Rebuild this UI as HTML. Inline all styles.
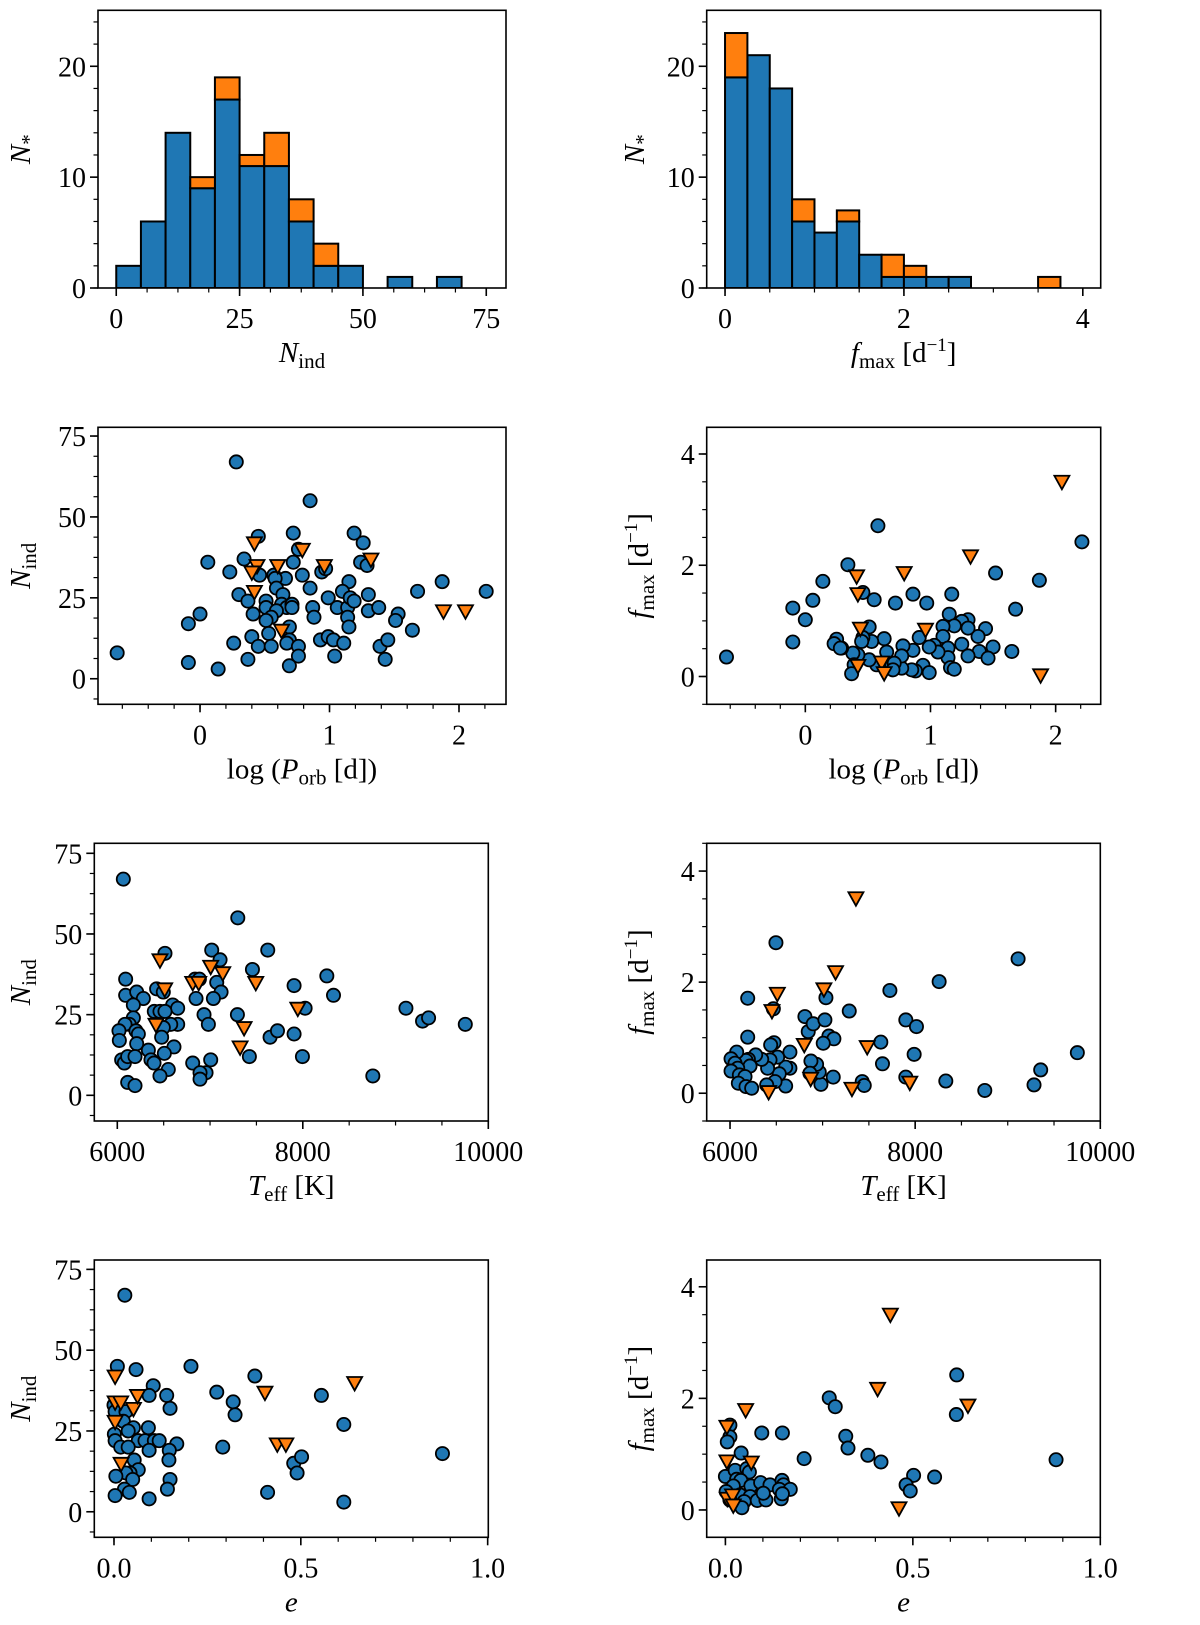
<!DOCTYPE html>
<html><head><meta charset="utf-8"><style>
html,body{margin:0;padding:0;background:#fff;}
svg{display:block;font-family:"Liberation Serif","DejaVu Serif",serif;}
svg text{font-family:"Liberation Serif","DejaVu Serif",serif;}
</style></head><body>
<svg id="fig" width="1200" height="1625" viewBox="0 0 1200 1625" xmlns="http://www.w3.org/2000/svg" font-family="Liberation Serif, DejaVu Serif, serif"></svg>
<script>
// ---- Histogram data ----
const hist1Edges = [0,5,10,15,20,25,30,35,40,45,50,55,60,65,70,75];
const hist1Blue = [2,6,14,9,17,11,11,6,2,2,0,1,0,1,0];
const hist1Total = [2,6,14,10,19,12,14,8,4,2,0,1,0,1,0];
const hist2Edges = [0,0.25,0.5,0.75,1,1.25,1.5,1.75,2,2.25,2.5,2.75,3,3.25,3.5,3.75,4];
const hist2Blue = [19,21,18,6,5,6,3,1,1,1,1,0,0,0,0,0];
const hist2Total = [23,21,18,8,5,7,3,3,2,1,1,0,0,0,1,0];

// ---- Panel 3: log Porb vs Nind ----
const p3CircX = [-0.64,0.28,0.85,0.45,0.72,1.19,1.26,0.06,0.34,0.23,0.46,0.57,0.66,0.58,0.72,0.76,0.79,0.94,0.97,1.24,1.29,1.15,0.30,0.37,0.41,0,-0.09,0.51,0.51,0.59,0.64,0.63,0.67,0.71,0.71,0.59,0.55,0.51,0.85,0.87,0.88,0.99,1.06,1.10,1.14,1.16,1.19,1.14,1.15,1.30,1.30,1.38,1.53,1.51,1.64,1.68,1.87,2.21,0.26,0.40,0.45,0.53,0.55,0.69,0.69,0.67,0.76,0.76,0.69,0.37,0.14,-0.09,0.93,0.99,1.03,1.04,1.11,1.39,1.45,1.43];
const p3CircY = [8,67,55,44,45,45,42,36,37,33,32,32,31,31,36,40,32,33,34,36,35,30,26,24,20,20,17,24,22,28,26,23,22,23,22,21,19,18,28,22,19,25,22,27,22,25,24,19,16,26,21,22,20,18,15,27,30,27,11,13,10,14,10,16,12,11,10,7,4,6,3,5,12,13,12,7,11,10,12,6];
const p3TriX = [0.42,0.44,0.40,0.42,0.60,0.79,0.96,1.32,0.63,1.88,2.05];
const p3TriY = [42,35,33,27,35,40,35,37,15,21,21];

// ---- Panel 4: log Porb vs fmax ----
const p4CircX = [-0.63,-0.10,-0.10,0,0.06,0.14,0.34,0.58,0.46,0.55,0.72,0.86,0.97,1.17,1.15,1.52,1.68,1.87,2.21,1.65,1.50,1.44,1.38,1.30,1.25,1.30,1.19,1.10,1.10,1.25,1.39,1.46,1.30,1.14,1.14,1.16,1.19,1.03,1.06,0.99,0.91,0.94,0.99,0.88,0.85,0.77,0.86,0.78,0.77,0.69,0.71,0.70,0.65,0.63,0.57,0.51,0.53,0.51,0.46,0.45,0.42,0.38,0.39,0.37,0.29,0.25,0.23,0.28];
const p4CircY = [0.35,1.23,0.62,1.02,1.37,1.71,2.01,2.71,1.51,1.38,1.32,1.48,1.32,1.48,1.12,1.86,1.21,1.73,2.42,0.45,0.53,0.86,0.72,1.02,0.99,0.87,0.91,0.90,0.72,0.58,0.45,0.33,0.37,0.51,0.34,0.16,0.13,0.56,0.44,0.53,0.70,0.20,0.07,0.10,0.12,0.15,0.47,0.55,0.37,0.19,0.24,0.12,0.44,0.68,0.21,0.30,0.63,0.89,0.70,0.63,0.39,0.42,0.21,0.05,0.51,0.67,0.59,0.51];
const p4TriX = [0.41,0.42,0.44,0.42,0.61,0.63,0.79,0.96,1.32,2.05,1.88];
const p4TriY = [1.81,1.49,0.87,0.20,0.26,0.07,1.87,0.85,2.17,3.51,0.03];

// ---- Panel 5: Teff vs Nind ----
const p5CircX = [6065,7299,6514,7018,7622,7108,7457,6090,6838,6885,7072,7119,7036,6849,6424,6496,6090,6209,6281,6173,7906,8259,8331,8025,9112,9291,9356,9752,6597,6651,6399,6460,6514,6651,6576,6496,6478,6935,6982,7295,6173,6129,6083,6018,6022,6201,6227,6209,6611,6335,6507,7647,7727,7906,6047,6076,6112,6191,6363,6396,6813,7007,6957,6892,6892,6550,6460,6112,6191,7424,7996,8755];
const p5CircY = [67,55,44,45,45,42,39,36,36,36,35,32,30,30,33,32,31,32,30,28,34,37,31,27,27,23,24,22,28,27,26,26,26,22,22,21,18,25,22,25,24,22,22,20,17,20,19,16,15,14,13,18,20,19,11,10,12,12,11,10,10,11,7,7,5,8,6,4,3,12,12,6];
const p5TriX = [6460,6511,6417,6813,6878,7007,7137,7367,7493,7324,7946];
const p5TriY = [42,33,22,35,35,40,38,21,35,15,27];

// ---- Panel 6: Teff vs fmax ----
const p6CircX = [6496,6191,6191,6468,7036,6809,6845,6899,7025,7068,7122,7007,7288,7727,8259,7899,8014,7629,7647,7989,9112,9752,9356,9284,8752,8331,7899,7428,7450,7115,6982,6964,6935,6874,6863,6647,6647,6601,6601,6532,6514,6486,6475,6439,6432,6406,6396,6342,6277,6198,6173,6216,6072,6011,6054,6083,6011,6101,6162,6090,6173,6234];
const p6CircY = [2.71,1.71,1.01,1.52,1.72,1.38,1.11,1.25,1.32,1.03,0.98,0.90,1.48,1.85,2.01,1.32,1.20,0.92,0.53,0.70,2.42,0.73,0.42,0.15,0.05,0.22,0.29,0.21,0.14,0.29,0.16,0.38,0.52,0.58,0.36,0.74,0.45,0.47,0.13,0.35,0.65,0.21,0.91,0.87,0.60,0.45,0.15,0.61,0.69,0.61,0.59,0.49,0.74,0.62,0.54,0.45,0.40,0.33,0.30,0.18,0.12,0.09];
const p6TriX = [7360,7140,7014,6511,6453,6802,7482,6871,6417,7317,7942];
const p6TriY = [3.52,2.19,1.88,1.80,1.49,0.88,0.84,0.27,0.03,0.09,0.20];

// ---- Panel 7: e vs Nind ----
const p7CircX = [0.029,0.009,0.059,0.206,0.377,0.105,0.094,0.141,0.150,0.275,0.319,0.324,0.555,0.615,0,0.003,0.032,0.025,0.052,0.092,0.038,0.001,0.003,0.065,0.083,0.108,0.121,0.168,0.018,0.038,0.094,0.148,0.291,0.054,0.147,0.481,0.502,0.490,0.879,0.065,0.043,0.032,0.005,0.050,0.150,0.143,0.028,0.041,0.003,0.094,0.411,0.615];
const p7CircY = [67,45,44,45,42,39,36,36,32,37,34,30,36,27,33,31,31,28,26,26,25,24,22,22,22,22,22,21,20,20,19,19,20,16,16,15,17,12,18,13,12,12,11,10,10,7,7,6,5,4,6,3];
const p7TriX = [0.003,0.003,0.018,0.052,0.063,0.003,0.019,0.404,0.437,0.460,0.644];
const p7TriY = [42,34,34,32,36,28,15,37,21,21,40];

// ---- Panel 8: e vs fmax ----
const p8CircX = [0.617,0.616,0.277,0.293,0.321,0.327,0.380,0.415,0.502,0.558,0.482,0.493,0.882,0.210,0.152,0.097,0.012,0.012,0.005,0.042,0,0.026,0.057,0.064,0.030,0.041,0.021,0.068,0.094,0.119,0.151,0.155,0.144,0.173,0.002,0.039,0.066,0.085,0.108,0.149,0.152,0.050,0.044,0.012,0.101];
const p8CircY = [2.42,1.71,2.01,1.85,1.32,1.11,0.98,0.86,0.62,0.59,0.45,0.34,0.90,0.92,1.38,1.38,1.52,1.31,1.22,1.02,0.60,0.71,0.74,0.68,0.55,0.53,0.43,0.43,0.49,0.45,0.53,0.45,0.37,0.37,0.33,0.27,0.24,0.17,0.18,0.20,0.29,0.15,0.04,0.18,0.30];
const p8TriX = [0.44,0.406,0.647,0.054,0.004,0.004,0.069,0.005,0.019,0.021,0.463];
const p8TriY = [3.51,2.18,1.88,1.80,1.50,0.88,0.86,0.21,0.27,0.09,0.04];

const BLUE = '#1f77b4', ORANGE = '#ff7f0e';
const FONT = '"Liberation Serif", "DejaVu Serif", serif';
const NS = 'http://www.w3.org/2000/svg';
const svg = document.getElementById('fig');

function mk(tag, attrs, parent) {
  const e = document.createElementNS(NS, tag);
  for (const k in attrs) e.setAttribute(k, attrs[k]);
  if (tag === 'text') e.style.fontFamily = FONT;
  (parent || svg).appendChild(e);
  return e;
}

function range(a, b, step) {
  const out = [];
  for (let v = a; v <= b + 1e-9; v += step) out.push(+v.toFixed(6));
  return out;
}

function makePanel(cfg) {
  const g = mk('g', {});
  
  
  const X = v => cfg.x0 + (v - cfg.xlim[0]) / (cfg.xlim[1] - cfg.xlim[0]) * (cfg.x1 - cfg.x0);
  const Y = v => cfg.y1 - (v - cfg.ylim[0]) / (cfg.ylim[1] - cfg.ylim[0]) * (cfg.y1 - cfg.y0);
  const clip = 'clip-' + cfg.name;
  const cp = mk('clipPath', { id: clip }, g);
  mk('rect', { x: cfg.x0, y: cfg.y0, width: cfg.x1 - cfg.x0, height: cfg.y1 - cfg.y0 }, cp);
  const plot = mk('g', { 'clip-path': 'url(#' + clip + ')' }, g);
  
  
  return { g, X, Y, plot, cfg };
}

function drawAxes(p) {
  const { g, X, Y, cfg } = p;
  const ax = mk('g', {}, g);
  
  
  mk('rect', { x: cfg.x0, y: cfg.y0, width: cfg.x1 - cfg.x0, height: cfg.y1 - cfg.y0, fill: 'none', stroke: '#000', 'stroke-width': 1.6 }, ax);
  cfg.xminor.forEach(v => {
    if (v < cfg.xlim[0] || v > cfg.xlim[1]) return;
    mk('line', { x1: X(v), x2: X(v), y1: cfg.y1, y2: cfg.y1 + 4.5, stroke: '#000', 'stroke-width': 1.2 }, ax);
  });
  cfg.yminor.forEach(v => {
    if (v < cfg.ylim[0] || v > cfg.ylim[1]) return;
    mk('line', { x1: cfg.x0, x2: cfg.x0 - 4.5, y1: Y(v), y2: Y(v), stroke: '#000', 'stroke-width': 1.2 }, ax);
  });
  cfg.xticks.forEach((v, i) => {
    mk('line', { x1: X(v), x2: X(v), y1: cfg.y1, y2: cfg.y1 + 8, stroke: '#000', 'stroke-width': 1.6 }, ax);
    const t = mk('text', { x: X(v), y: cfg.y1 + 40, 'text-anchor': 'middle', 'font-size': 28, fill: '#000' }, ax);
    t.textContent = cfg.xlabels[i];
    
    
  });
  cfg.yticks.forEach((v, i) => {
    mk('line', { x1: cfg.x0, x2: cfg.x0 - 8, y1: Y(v), y2: Y(v), stroke: '#000', 'stroke-width': 1.6 }, ax);
    const t = mk('text', { x: cfg.x0 - 12, y: Y(v) + 10, 'text-anchor': 'end', 'font-size': 28, fill: '#000' }, ax);
    t.textContent = cfg.ylabels[i];
    
    
  });
  const xt = mk('text', { x: (cfg.x0 + cfg.x1) / 2, y: cfg.y1 + 74, 'text-anchor': 'middle', 'font-size': 29, fill: '#000' }, ax);
  xt.innerHTML = cfg.xtitle;
  
  
  const cy = (cfg.y0 + cfg.y1) / 2;
  const yt = mk('text', { x: 0, y: 0, 'text-anchor': 'middle', 'font-size': 29, fill: '#000', transform: 'translate(' + cfg.ytx + ',' + cy + ') rotate(-90)' }, ax);
  yt.innerHTML = cfg.ytitle;
  
  
}

function drawHist(p, edges, blue, total) {
  const { X, Y, plot } = p;
  for (let i = 0; i < blue.length; i++) {
    const xa = X(edges[i]), xb = X(edges[i + 1]);
    const r = mk('rect', { x: xa, y: Y(blue[i]), width: xb - xa, height: Y(0) - Y(blue[i]), fill: BLUE, stroke: '#000', 'stroke-width': 2 }, plot);
    
    
  }
  for (let i = 0; i < total.length; i++) {
    if (total[i] <= blue[i]) continue;
    const xa = X(edges[i]), xb = X(edges[i + 1]);
    const r = mk('rect', { x: xa, y: Y(total[i]), width: xb - xa, height: Y(blue[i]) - Y(total[i]), fill: ORANGE, stroke: '#000', 'stroke-width': 2 }, plot);
    
    
  }
}

function drawScatter(p, cx, cy, tx, ty) {
  const { X, Y, plot } = p;
  for (let i = 0; i < cx.length; i++) {
    const c = mk('circle', { cx: X(cx[i]), cy: Y(cy[i]), r: 6.6, fill: BLUE, stroke: '#000', 'stroke-width': 1.8 }, plot);
    
    
  }
  for (let i = 0; i < tx.length; i++) {
    const x = X(tx[i]), y = Y(ty[i]);
    const t = mk('polygon', { points: (x - 7.5) + ',' + (y - 5.5) + ' ' + (x + 7.5) + ',' + (y - 5.5) + ' ' + x + ',' + (y + 8), fill: ORANGE, stroke: '#000', 'stroke-width': 1.8 }, plot);
    
    
  }
}

const T_NIND = '<tspan font-style="italic">N</tspan><tspan font-size="21" dy="6">ind</tspan>';
const T_FMAX = '<tspan font-style="italic">f</tspan><tspan font-size="21" dy="6">max</tspan><tspan dy="-6"> [d</tspan><tspan font-size="19" dy="-11">−1</tspan><tspan dy="11">]</tspan>';
const T_NSTAR = '<tspan font-style="italic">N</tspan><tspan font-size="21" dy="6">*</tspan>';
const T_PORB = 'log (<tspan font-style="italic">P</tspan><tspan font-size="21" dy="6">orb</tspan><tspan dy="-6"> [d])</tspan>';
const T_TEFF = '<tspan font-style="italic">T</tspan><tspan font-size="21" dy="6">eff</tspan><tspan dy="-6"> [K]</tspan>';
const T_E = '<tspan font-style="italic">e</tspan>';

const nindY = { yticks: [0,25,50,75], ylabels: ['0','25','50','75'], yminor: range(-6.25, 75, 6.25), ytitle: T_NIND };
const fmaxY = { yticks: [0,2,4], ylabels: ['0','2','4'], yminor: range(-0.5, 4.5, 0.5), ytitle: T_FMAX };
const porbX = { xticks: [0,1,2], xlabels: ['0','1','2'], xminor: range(-0.6, 2.2, 0.2), xtitle: T_PORB };
const teffX = { xticks: [6000,8000,10000], xlabels: ['6000','8000','10000'], xminor: range(6000, 10000, 500), xtitle: T_TEFF };
const eX = { xticks: [0,0.5,1], xlabels: ['0.0','0.5','1.0'], xminor: range(0, 1, 0.1), xtitle: T_E };

let p = makePanel({ name: 'hist-nind', x0: 98, x1: 506, y0: 10.3, y1: 288, xlim: [-3.7, 79], ylim: [0, 25.05] });
drawHist(p, hist1Edges, hist1Blue, hist1Total);
Object.assign(p.cfg, { xticks: [0,25,50,75], xlabels: ['0','25','50','75'], xminor: range(0, 75, 6.25), yticks: [0,10,20], ylabels: ['0','10','20'], yminor: range(0, 24, 2), xtitle: T_NIND, ytitle: T_NSTAR, ytx: 30 });
drawAxes(p);

p = makePanel({ name: 'hist-fmax', x0: 706.7, x1: 1100.7, y0: 10.3, y1: 288, xlim: [-0.205, 4.2], ylim: [0, 25.05] });
drawHist(p, hist2Edges, hist2Blue, hist2Total);
Object.assign(p.cfg, { xticks: [0,2,4], xlabels: ['0','2','4'], xminor: range(0, 4, 0.5), yticks: [0,10,20], ylabels: ['0','10','20'], yminor: range(0, 24, 2), xtitle: T_FMAX, ytitle: T_NSTAR, ytx: 644 });
drawAxes(p);

p = makePanel({ name: 'scatter-porb-nind', x0: 98, x1: 506, y0: 427.3, y1: 704.3, xlim: [-0.788, 2.363], ylim: [-7.9, 77.7] });
drawScatter(p, p3CircX, p3CircY, p3TriX, p3TriY);
Object.assign(p.cfg, porbX, nindY, { ytx: 30 });
drawAxes(p);

p = makePanel({ name: 'scatter-porb-fmax', x0: 706.7, x1: 1100.7, y0: 427.3, y1: 704.3, xlim: [-0.788, 2.36], ylim: [-0.5, 4.48] });
drawScatter(p, p4CircX, p4CircY, p4TriX, p4TriY);
Object.assign(p.cfg, porbX, fmaxY, { ytx: 648 });
drawAxes(p);

p = makePanel({ name: 'scatter-teff-nind', x0: 94.3, x1: 488.3, y0: 843.3, y1: 1121, xlim: [5752, 10000], ylim: [-7.96, 78.1] });
drawScatter(p, p5CircX, p5CircY, p5TriX, p5TriY);
Object.assign(p.cfg, teffX, nindY, { ytx: 30 });
drawAxes(p);

p = makePanel({ name: 'scatter-teff-fmax', x0: 706.7, x1: 1100.3, y0: 843.3, y1: 1121, xlim: [5748, 10000], ylim: [-0.5, 4.5] });
drawScatter(p, p6CircX, p6CircY, p6TriX, p6TriY);
Object.assign(p.cfg, teffX, fmaxY, { ytx: 648 });
drawAxes(p);

p = makePanel({ name: 'scatter-e-nind', x0: 94.3, x1: 488.3, y0: 1260, y1: 1537.3, xlim: [-0.0527, 1.0017], ylim: [-7.9, 77.9] });
drawScatter(p, p7CircX, p7CircY, p7TriX, p7TriY);
Object.assign(p.cfg, eX, nindY, { ytx: 30 });
drawAxes(p);

p = makePanel({ name: 'scatter-e-fmax', x0: 706.7, x1: 1100.3, y0: 1260, y1: 1537.3, xlim: [-0.0499, 1.0], ylim: [-0.49, 4.48] });
drawScatter(p, p8CircX, p8CircY, p8TriX, p8TriY);
Object.assign(p.cfg, eX, fmaxY, { ytx: 648 });
drawAxes(p);
</script>
</body></html>
